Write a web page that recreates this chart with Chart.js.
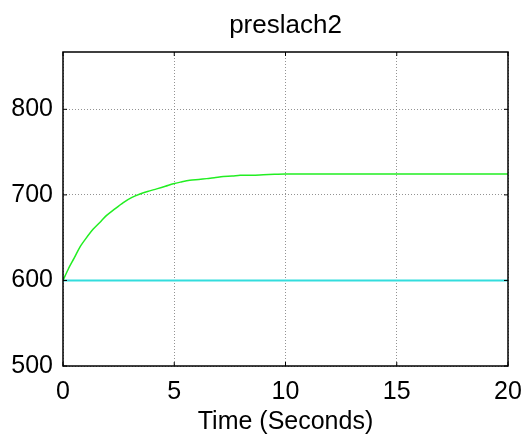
<!DOCTYPE html>
<html>
<head>
<meta charset="utf-8">
<script src="https://cdn.jsdelivr.net/npm/chart.js@4"></script>
<style>
  html, body { margin: 0; padding: 0; background: #fff; }
  #wrap { width: 526px; height: 437px; }
</style>
</head>
<body>
<div id="wrap"><canvas id="chart"></canvas></div>
<script>
// Data
const timeGreen = [0, 0.25, 0.5, 0.76, 1.0, 1.36, 1.7, 1.96, 2.3, 2.71, 3.1, 3.46, 3.8, 4.21, 4.6, 4.96, 5.3, 5.7, 6.1, 6.46, 6.8, 7.2, 7.6, 7.96, 8.5, 9.0, 9.5, 10, 12, 14, 16, 18, 20];
const valuesGreen = [600, 614, 626, 639, 648, 660, 669, 676, 683, 691, 697, 701, 704, 707, 710, 713, 715, 717, 718, 719, 720, 721.5, 722, 723, 723, 723.5, 724, 724.5, 724.5, 724.5, 724.5, 724.5, 724.5];
const timeCyan = [0, 20];
const valuesCyan = [600, 600];
const xTicks = [0, 5, 10, 15, 20];
const yTicks = [500, 600, 700, 800];
const chartTitle = 'preslach2';

function toPoints(xs, ys) {
    return xs.map((x, i) => ({ x: x, y: ys[i] }));
}

const font = 'Arial, "Liberation Sans", sans-serif';

// draws the black box, small inward ticks (MATLAB style) and the title over the plot
const boxPlugin = {
    id: 'box',
    afterDraw(chart) {
        const { ctx, chartArea: a, scales } = chart;
        ctx.save();
        ctx.strokeStyle = '#000';
        ctx.lineWidth = 1.5;
        ctx.strokeRect(a.left, a.top, a.right - a.left, a.bottom - a.top);
        ctx.lineWidth = 1;
        const len = 4;
        xTicks.forEach(v => {
            const px = scales.x.getPixelForValue(v);
            ctx.beginPath();
            ctx.moveTo(px, a.bottom); ctx.lineTo(px, a.bottom - len);
            ctx.moveTo(px, a.top); ctx.lineTo(px, a.top + len);
            ctx.stroke();
        });
        yTicks.forEach(v => {
            const py = scales.y.getPixelForValue(v);
            ctx.beginPath();
            ctx.moveTo(a.left, py); ctx.lineTo(a.left + len, py);
            ctx.moveTo(a.right, py); ctx.lineTo(a.right - len, py);
            ctx.stroke();
        });
        ctx.fillStyle = '#000';
        ctx.font = '26px ' + font;
        ctx.textAlign = 'center';
        ctx.textBaseline = 'alphabetic';
        ctx.fillText(chartTitle, (a.left + a.right) / 2, 33);
        ctx.restore();
    }
};

new Chart(document.getElementById('chart'), {
    type: 'line',
    data: {
        datasets: [
            {
                data: toPoints(timeGreen, valuesGreen),
                borderColor: '#22ee22',
                borderWidth: 1.5,
                pointRadius: 0,
                tension: 0.3
            },
            {
                data: toPoints(timeCyan, valuesCyan),
                borderColor: '#33dddd',
                borderWidth: 2,
                pointRadius: 0
            }
        ]
    },
    options: {
        responsive: true,
        maintainAspectRatio: false,
        animation: false,
        layout: { padding: { left: 0, right: 18, top: 52, bottom: 0 } },
        plugins: {
            legend: { display: false },
            tooltip: { enabled: false },
            title: { display: false }
        },
        scales: {
            x: {
                type: 'linear',
                min: 0,
                max: 20,
                afterBuildTicks: s => { s.ticks = xTicks.map(v => ({ value: v })); },
                afterFit: s => { s.height = 71; s.paddingLeft = 0; s.paddingRight = 0; },
                grid: { color: '#777', drawTicks: false, lineWidth: 0.8 },
                border: { display: false, dash: [1, 2] },
                ticks: {
                    color: '#000',
                    padding: 11,
                    maxRotation: 0,
                    font: { family: font, size: 25 }
                },
                title: {
                    display: true,
                    text: 'Time (Seconds)',
                    color: '#000',
                    padding: { top: 0, bottom: 0 },
                    font: { family: font, size: 25 }
                }
            },
            y: {
                min: 500,
                max: 867,
                afterBuildTicks: s => { s.ticks = yTicks.map(v => ({ value: v })); },
                afterFit: s => { s.width = 63; s.paddingTop = 0; s.paddingBottom = 0; },
                grid: { color: '#777', drawTicks: false, lineWidth: 0.8 },
                border: { display: false, dash: [1, 2] },
                ticks: {
                    color: '#000',
                    padding: 10,
                    font: { family: font, size: 25 }
                }
            }
        }
    },
    plugins: [boxPlugin]
});
</script>
</body>
</html>
